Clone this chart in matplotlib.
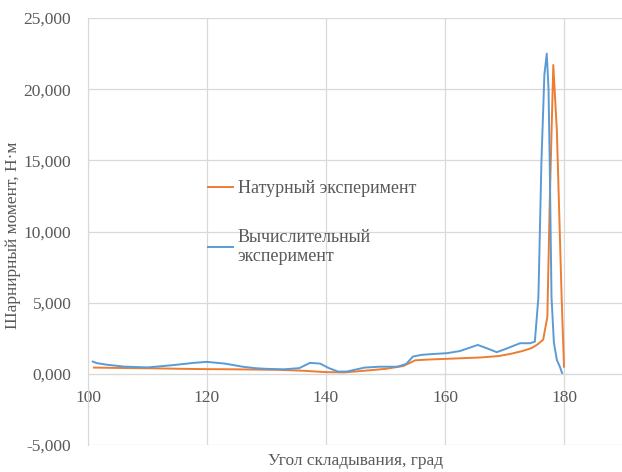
import matplotlib.pyplot as plt
from matplotlib.ticker import FuncFormatter

plt.rcParams['font.family'] = ['Liberation Serif', 'DejaVu Serif']
plt.rcParams['font.size'] = 12.5

# Натурный эксперимент (тыс. единиц по оси)
nat_angle = [101, 104, 108, 112, 116, 120, 124, 128, 132, 136, 140, 143,
             146, 150, 153, 155, 157, 160, 163, 166, 169, 171, 173, 174.5,
             175.5, 176.5, 177.2, 177.6, 178.2, 178.8, 179.6, 180.0]
nat_moment = [0.44, 0.42, 0.40, 0.38, 0.35, 0.33, 0.32, 0.30, 0.28, 0.22,
              0.12, 0.10, 0.20, 0.35, 0.55, 0.95, 1.00, 1.05, 1.10, 1.15,
              1.25, 1.40, 1.60, 1.80, 2.05, 2.40, 4.0, 12.0, 21.7, 17.1,
              5.4, 0.5]

# Вычислительный эксперимент
calc_angle = [100.8, 101.5, 103, 106, 110, 114, 118, 120, 123, 126, 128,
              130, 133, 135.5, 137.3, 139, 140.5, 142, 143.5, 145, 146.5,
              149, 152, 153.5, 154.6, 156, 157.5, 160.3, 162.5, 165.5, 167,
              168.7, 170.5, 172.6, 174.3, 175.1, 175.7, 176.2, 176.7, 177.1,
              177.4, 177.6, 177.9, 178.3, 178.8, 179.3, 179.7]
calc_moment = [0.86, 0.75, 0.65, 0.51, 0.45, 0.60, 0.78, 0.84, 0.72, 0.50,
               0.40, 0.35, 0.32, 0.40, 0.77, 0.72, 0.40, 0.16, 0.16, 0.30,
               0.44, 0.50, 0.50, 0.70, 1.21, 1.33, 1.38, 1.45, 1.60, 2.03,
               1.80, 1.52, 1.80, 2.15, 2.15, 2.26, 5.4, 14.8, 21.0, 22.5,
               20.0, 14.8, 5.4, 2.2, 0.98, 0.5, 0.03]

grey = '#595959'
grid = '#d9d9d9'

fig = plt.figure(figsize=(6.22, 4.72), dpi=100)
ax = fig.add_axes([88 / 622, 27 / 472, 535.5 / 622, 427 / 472])

ax.plot(nat_angle, nat_moment, color='#ED7D31', lw=1.4,
        label='Натурный эксперимент')
ax.plot(calc_angle, calc_moment, color='#5B9BD5', lw=1.4,
        label='Вычислительный\nэксперимент')

ax.set_xlim(100, 190)
ax.set_ylim(-5, 25)
ax.set_xticks([100, 120, 140, 160, 180])
ax.set_yticks(range(-5, 26, 5))
ax.yaxis.set_major_formatter(
    FuncFormatter(lambda v, p: f'{v:.3f}'.replace('.', ',')))

ax.grid(True, color=grid, lw=0.9)
ax.set_axisbelow(True)
for s in ['top', 'right']:
    ax.spines[s].set_visible(False)
ax.spines['left'].set_color(grid)
ax.spines['bottom'].set_color(grid)
ax.spines['bottom'].set_position(('data', 0))
ax.tick_params(length=0, colors=grey)
ax.tick_params(axis='x', pad=12)
ax.tick_params(axis='y', pad=12)

ax.set_xlabel('Угол складывания, град', color=grey)
ax.xaxis.set_label_coords(0.5, -0.018)
ax.set_ylabel('Шарнирный момент, Н·м', color=grey)
ax.yaxis.set_label_coords(-0.125, 0.49)

leg = ax.legend(loc='upper left', bbox_to_anchor=(0.224, 0.62),
                frameon=False, borderpad=0, borderaxespad=0, fontsize=13,
                handlelength=1.4, handletextpad=0.25, labelspacing=1.75)
for t in leg.get_texts():
    t.set_color(grey)

fig.savefig('out.png', dpi=100)
